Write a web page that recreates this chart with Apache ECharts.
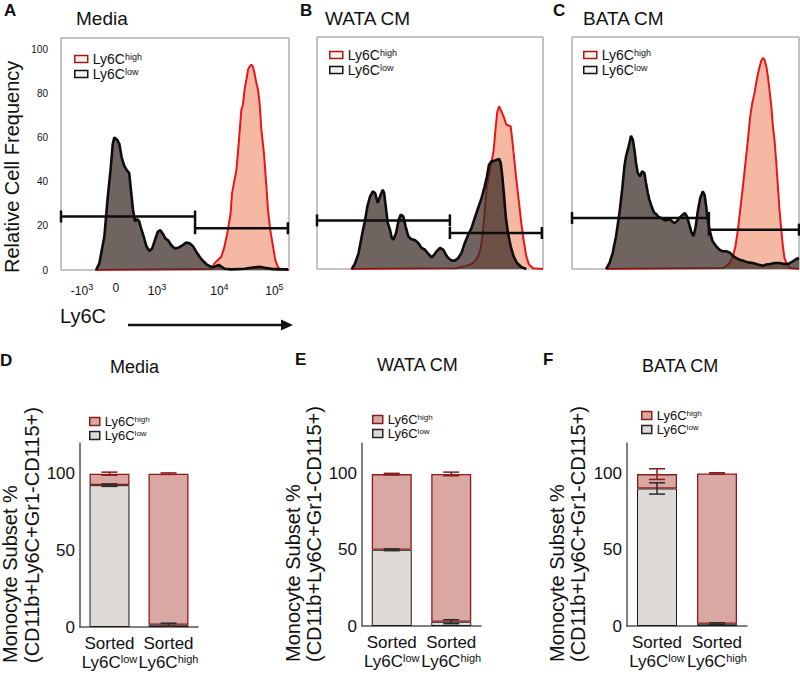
<!DOCTYPE html>
<html><head><meta charset="utf-8">
<script src="https://cdn.jsdelivr.net/npm/echarts@6/dist/echarts.min.js"></script>
<style>html,body{margin:0;padding:0;background:#fff}#c{width:800px;height:674px}</style>
</head><body><div id="c"></div>
<script>
// ---------- Histogram data: [channel (0-1000 display scale), relative frequency] ----------
const mediaHigh = [[150,0],[660,0.5],[673,3],[688,4.5],[703,6],[717,10.6],[732,18],[744,25.7],[750,34.7],[758,39],[769,45],[776,53],[783,62],[791,72.5],[798,74.8],[805,81.6],[813,86],[820,90.6],[827,92],[835,93],[842,92],[849,89],[857,84.6],[864,81.6],[871,75.5],[879,63.4],[890,53],[900,39],[908,27],[918,18],[930,10.6],[940,4.5],[952,1.2],[966,0.3],[1000,0]];
const mediaLow = [[154,0],[168,3],[190,15],[205,33],[217,45],[227,57],[234,60],[246,59],[256,57],[266,51],[278,47],[290,45],[299,44],[307,36],[316,27],[325,22],[334,23],[343,22],[351,19],[363,15],[375,10.6],[388,8.6],[400,9.8],[413,13.9],[425,17.4],[436,18],[447,16.3],[457,14.4],[471,13.3],[483,11.3],[498,9.8],[515,10.1],[534,11.3],[549,12.4],[564,12.1],[578,10.9],[593,8.3],[608,6],[622,4.2],[637,2.7],[651,1.8],[666,1.2],[681,1.8],[692,2.3],[703,1.5],[717,0.6],[747,0.3],[805,0.6],[849,1.2],[871,1.5],[893,1],[922,0.5],[952,0.3],[996,0.3]];
const wataHigh = [[150,0],[617,0.3],[639,0.9],[661,1.5],[684,2.3],[698,3.5],[713,5.7],[723,8.7],[732,14.8],[740,23.8],[750,35.9],[760,41.9],[772,48],[782,54],[791,64.6],[798,71.3],[806,73.6],[816,71.3],[826,69],[838,65.3],[850,64.9],[857,64.6],[864,58.5],[873,49.5],[882,40.4],[894,29.9],[904,20.8],[914,13.3],[926,5.7],[938,2],[956,0.3],[1000,0]];
const wataLow = [[154,0],[169,2.7],[184,7.2],[198,14.8],[213,22.3],[223,28.4],[235,32.9],[247,35.1],[257,34.4],[269,29.9],[279,32.9],[291,35.9],[297,34.4],[306,26.8],[313,20.8],[323,17.8],[331,14],[338,13.3],[350,16.3],[360,21.6],[370,24.6],[382,23.8],[392,19.3],[404,14.8],[416,13.6],[434,13],[448,11.8],[463,9.5],[478,8.7],[492,6.9],[507,5.3],[519,6.5],[529,8],[544,9.5],[559,8.7],[570,6.5],[581,5],[595,3.8],[610,3.8],[625,5],[639,7.2],[654,11.8],[669,15.5],[684,18.6],[698,23.1],[713,27.6],[728,32.1],[742,37.4],[752,41.9],[761,47.2],[772,48.7],[786,49],[797,49.5],[806,49.8],[813,48],[820,41.9],[828,32.9],[835,23.8],[845,16.3],[857,10.3],[870,5.7],[885,2.7],[904,0.9],[926,0]];
const bataHigh = [[150,0],[664,0.5],[679,1.2],[694,2.7],[709,5.7],[720,10.3],[731,17.8],[741,26.8],[753,37.4],[764,48],[775,58.5],[785,69],[794,75.1],[804,79.6],[814,85.7],[823,90.2],[833,94],[841,95.5],[848,94.7],[856,91.7],[863,87.2],[870,81.1],[878,73.6],[885,64.6],[892,58.5],[900,48],[907,37.4],[914,26.8],[922,17.8],[929,10.3],[936,5],[947,2],[958,0.5],[1000,0]];
const bataLow = [[150,0],[165,2.7],[179,7.2],[194,14.8],[209,25.3],[221,35.9],[231,46.5],[238,51],[246,54],[253,57],[260,60.3],[268,58.5],[275,54],[282,48],[290,43.4],[300,41.9],[309,44.2],[319,43.4],[326,38.9],[334,34.4],[341,31.4],[348,29.1],[356,26.8],[363,25.3],[370,24.9],[382,23.5],[393,23.1],[404,22.3],[415,22],[429,22.6],[441,21.6],[451,20.8],[462,21.6],[473,23.1],[488,24.6],[498,25.3],[506,23.8],[515,20.8],[525,17],[535,14.8],[544,18.6],[554,26.1],[565,32.1],[576,35.1],[584,33.6],[591,28.4],[598,22.3],[606,17.8],[613,14.8],[620,12.5],[635,10.3],[650,8.7],[664,8],[679,8],[694,7.5],[709,6],[723,5],[738,4.2],[753,3.8],[775,3],[797,2.7],[819,2],[841,1.5],[856,2],[873,2.3],[892,2.7],[914,2.7],[936,2.3],[956,2.4],[973,3.5],[988,4.5],[1000,5]];
// gates: [start channel, end channel, height]
const mediaGates = [[0,588,24.2],[588,995,18.9]];
const wataGates = [[0,588,22],[588,995,16.3]];
const bataGates = [[0,603,23.1],[603,1000,17.8]];
// x tick labels of the Ly6C axis (display channel positions)
const xTickChannels = [92,241,421,695,936];
const xTickLabels = ['-10{s|3}','0','10{s|3}','10{s|4}','10{s|5}'];
const yTickFreq = [0,20,40,60,80,100];

// ---------- Bar data (percent) ----------
const barCategories = ['low','high'];
const mediaLowPct = [92.5,1.5], mediaHighPct = [7.5,98.5];
const mediaLowErr = [0.8,1.0], mediaHighErr = [1.0,0.5];
const wataLowPct = [50,2.8], wataHighPct = [49.6,96.9];
const wataLowErr = [0.6,1.3], wataHighErr = [0.5,1.2];
const bataLowPct = [90.2,1.5], bataHighPct = [9.4,98.5];
const bataLowErr = [3.7,0.6], bataHighErr = [3.5,0.5];
const pctTicks = [0,50,100];

const FONT = 'Liberation Sans';
const chart = echarts.init(document.getElementById('c'), null, {renderer:'svg'});

const histGrids = [
  {left:61, top:38, width:228, height:232},
  {left:317, top:37, width:226, height:232},
  {left:572, top:37, width:227, height:232}
];
const barGrids = [
  {left:79, top:443, width:119, height:184},
  {left:362, top:443, width:119, height:183},
  {left:627, top:443, width:120, height:183}
];
const histSets = [[mediaHigh,mediaLow,mediaGates],[wataHigh,wataLow,wataGates],[bataHigh,bataLow,bataGates]];
const barSets = [[mediaLowPct,mediaHighPct,mediaLowErr,mediaHighErr],[wataLowPct,wataHighPct,wataLowErr,wataHighErr],[bataLowPct,bataHighPct,bataLowErr,bataHighErr]];

const grid = [], xAxis = [], yAxis = [], series = [], legend = [];
// invisible helper axis that only carries a rotated, bottom-anchored title
function titleAxis(gi, text, offset, gap, size){
  return {type:'value', gridIndex:gi, position:'left', offset, min:0, max:1,
    axisLine:{show:false}, axisTick:{show:false}, axisLabel:{show:false}, splitLine:{show:false},
    name:text, nameLocation:'start', nameGap:gap, nameRotate:90,
    nameTextStyle:{fontSize:size, fontFamily:FONT, color:'#111', align:'left', verticalAlign:'middle'}};
}

histGrids.forEach((g,i)=>{
  grid.push(Object.assign({show:true, borderColor:'#8a8a8a', borderWidth:1, backgroundColor:'#fff'}, g));
  xAxis.push({type:'value', gridIndex:i, min:0, max:1000, axisLine:{show:false}, axisTick:{show:false}, splitLine:{show:false},
    axisLabel:{show:i===0, customValues:xTickChannels, margin:12, fontSize:12, fontFamily:FONT, color:'#111',
      formatter:v=>{const k=xTickChannels.indexOf(v); return k>=0?xTickLabels[k]:'';}, rich:{s:{fontSize:9,fontFamily:FONT,padding:[0,0,8,0],color:'#111'}}}});
  yAxis.push({type:'value', gridIndex:i, min:0, max:105, axisLine:{show:false}, axisTick:{show:false}, splitLine:{show:false},
    axisLabel:{show:i===0, customValues:yTickFreq, margin:13, fontSize:10, fontFamily:FONT, color:'#111'}});
  const [hi, lo, gates] = histSets[i];
  series.push({type:'line', name:'Ly6C high', xAxisIndex:i, yAxisIndex:i, data:hi, showSymbol:false, symbol:'none',
    lineStyle:{color:'#e8161b', width:2}, areaStyle:{color:'#f5b8a3', opacity:1}, z:2, silent:true});
  series.push({type:'line', name:'Ly6C low', xAxisIndex:i, yAxisIndex:i, data:lo, showSymbol:false, symbol:'none',
    lineStyle:{color:'#0d0d0d', width:2.6}, areaStyle:{color:'rgba(55,40,35,0.72)', opacity:1}, z:3, silent:true});
  gates.forEach(gt=>{
    series.push({type:'line', xAxisIndex:i, yAxisIndex:i, data:[[gt[0],gt[2]],[gt[1],gt[2]]], symbol:'rect', symbolSize:[2.5,12],
      showSymbol:true, itemStyle:{color:'#0d0d0d'}, lineStyle:{color:'#0d0d0d', width:2.5}, z:5, silent:true});
  });
});

const legTopPos = [{left:74, top:52},{left:329, top:48},{left:583, top:48}];
legTopPos.forEach(p=>{
  legend.push(Object.assign({orient:'vertical', itemWidth:13, itemHeight:7, itemGap:1, padding:0, selectedMode:false,
    textStyle:{fontSize:14, lineHeight:14, fontFamily:FONT, color:'#111',
      rich:{s:{fontSize:9, lineHeight:9, fontFamily:FONT, padding:[0,0,5,0], color:'#111'}}},
    formatter:n=> n==='Ly6C high'?'Ly6C{s|high}':'Ly6C{s|low}',
    data:[{name:'Ly6C high', icon:'rect', itemStyle:{color:'#fdf0ec', borderColor:'#9e1b1b', borderWidth:1.5}},
          {name:'Ly6C low', icon:'rect', itemStyle:{color:'#f4f4f4', borderColor:'#111', borderWidth:1.5}}]}, p));
});

function errRender(color){
  return function(params, api){
    const x = api.value(0), c = api.value(1), e = api.value(2);
    const t = api.coord([x, c+e]), b = api.coord([x, c-e]);
    const hw = 8;
    const st = {stroke:color, lineWidth:1.5};
    return {type:'group', children:[
      {type:'line', shape:{x1:t[0],y1:t[1],x2:b[0],y2:b[1]}, style:st},
      {type:'line', shape:{x1:t[0]-hw,y1:t[1],x2:t[0]+hw,y2:t[1]}, style:st},
      {type:'line', shape:{x1:b[0]-hw,y1:b[1],x2:b[0]+hw,y2:b[1]}, style:st}
    ]};
  };
}

barGrids.forEach((g,j)=>{
  const gi = 3+j;
  grid.push(Object.assign({}, g));
  xAxis.push({type:'category', gridIndex:gi, data:barCategories,
    axisLine:{lineStyle:{color:'#555', width:1.5}}, axisTick:{alignWithLabel:true, length:4, lineStyle:{color:'#555'}},
    axisLabel:{margin:7, fontSize:17, lineHeight:19, fontFamily:FONT, color:'#111', interval:0,
      formatter:v=>'Sorted\nLy6C{s|'+v+'}', rich:{s:{fontSize:11, fontFamily:FONT, padding:[0,0,8,0], color:'#111'}}}});
  yAxis.push({type:'value', gridIndex:gi, min:0, max:120, axisLine:{show:true, lineStyle:{color:'#555', width:1.5}},
    axisTick:{show:false}, splitLine:{show:false},
    axisLabel:{customValues:pctTicks, margin:5, fontSize:17, fontFamily:FONT, color:'#111'}});
  const [lo, hi, le, he] = barSets[j];
  series.push({type:'bar', name:'Ly6C low', stack:'s'+j, xAxisIndex:gi, yAxisIndex:3+j, data:lo, barWidth:40,
    itemStyle:{color:'#dedad7', borderColor:'#1a1a1a', borderWidth:1}, silent:true});
  series.push({type:'bar', name:'Ly6C high', stack:'s'+j, xAxisIndex:gi, yAxisIndex:3+j, data:hi, barWidth:40,
    itemStyle:{color:'#d9a8a2', borderColor:'#8b1c1c', borderWidth:1.3}, silent:true});
  series.push({type:'custom', xAxisIndex:gi, yAxisIndex:3+j, renderItem:errRender('#2a2a2a'),
    data:lo.map((v,k)=>[k, v, le[k]]), encode:{x:0, y:1}, z:4, silent:true});
  series.push({type:'custom', xAxisIndex:gi, yAxisIndex:3+j, renderItem:errRender('#8b1c1c'),
    data:lo.map((v,k)=>[k, v+hi[k], he[k]]), encode:{x:0, y:1}, z:4, silent:true});
});
// axis titles (rotated, anchored at their bottom end like the reference)
yAxis.push(titleAxis(0, 'Relative Cell Frequency', 49, 3, 20));
[[70,48],[69,48],[70,49]].forEach((o,j)=>{
  yAxis.push(titleAxis(3+j, 'Monocyte Subset %', o[0], 36, 20));
  yAxis.push(titleAxis(3+j, '(CD11b+Ly6C+Gr1-CD115+)', o[1], 36, 20));
});

const legBotPos = [{left:89, top:415},{left:372, top:413},{left:641, top:409}];
legBotPos.forEach(p=>{
  legend.push(Object.assign({orient:'vertical', itemWidth:10, itemHeight:8, itemGap:1, padding:0, selectedMode:false,
    textStyle:{fontSize:13, lineHeight:13, fontFamily:FONT, color:'#111',
      rich:{s:{fontSize:8, lineHeight:8, fontFamily:FONT, padding:[0,0,5,0], color:'#111'}}},
    formatter:n=> n==='Ly6C high'?'Ly6C{s|high}':'Ly6C{s|low}',
    data:[{name:'Ly6C high', icon:'rect', itemStyle:{color:'#d9a8a2', borderColor:'#8b1c1c', borderWidth:1.5}},
          {name:'Ly6C low', icon:'rect', itemStyle:{color:'#dedad7', borderColor:'#222', borderWidth:1.5}}]}, p));
});

const T = (text,left,top,size,bold)=>({text, left, top, padding:0,
  textStyle:{fontSize:size, fontWeight:bold?'bold':'normal', fontFamily:FONT, color:'#111'}});
const title = [
  T('A',4,2,17,true), T('Media',76,9,19),
  T('B',300,2,17,true), T('WATA CM',325,9,19),
  T('C',553,2,17,true), T('BATA CM',583,9,19),
  T('D',0,352,17,true), T('Media',110,358,18),
  T('E',295,351,17,true), T('WATA CM',377,356,18),
  T('F',543,351,17,true), T('BATA CM',642,357,18)
];

chart.setOption({
  backgroundColor:'#fff', animation:false,
  textStyle:{fontFamily:FONT},
  title, grid, xAxis, yAxis, series, legend,
  graphic:[
    {type:'text', left:60, top:306, style:{text:'Ly6C', fontSize:20, fontFamily:FONT, fill:'#111'}},
    {type:'polyline', shape:{points:[[128,325],[283,325]]}, style:{stroke:'#111', lineWidth:2.5}},
    {type:'polygon', shape:{points:[[281,319.5],[293,325],[281,330.5]]}, style:{fill:'#111'}}
  ]
});
</script></body></html>
